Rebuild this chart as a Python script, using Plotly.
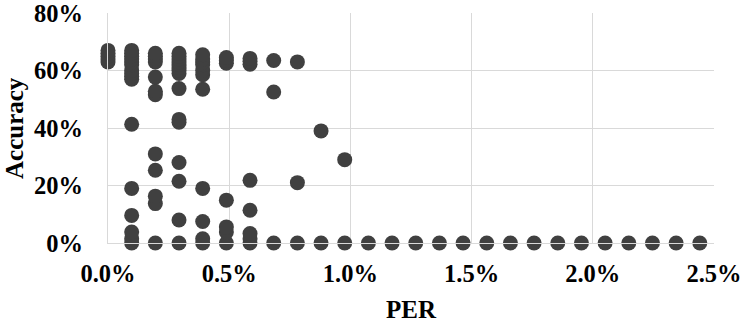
import plotly.graph_objects as go

# PER steps of 1/1024 (column index k -> k/1024)
per_steps = list(range(26))

# accuracy values (%) observed in each PER column
acc_by_step = {
    0: [63, 64, 65, 66, 67],
    1: [0, 1.5, 3.8, 9.6, 19, 41.3, 57, 58, 59, 60, 62, 63, 64, 65, 66, 67],
    2: [0, 13.7, 16.3, 25.3, 31, 51.6, 52.8, 57.7, 63, 64, 65, 66],
    3: [0, 8, 21.5, 28, 42, 43, 53.7, 59, 60, 61, 62, 63, 64, 65, 66],
    4: [0, 1.5, 7.5, 19, 53.5, 58.5, 60, 62, 63, 64, 65.5],
    5: [0, 3.8, 5.6, 14.9, 62.5, 63.5, 64.5],
    6: [0, 1.5, 3.3, 11.4, 21.8, 62.2, 63.2, 64.2],
    7: [0, 52.5, 63.5],
    8: [0, 21, 63],
    9: [0, 39],
    10: [0, 29],
}

xs, ys = [], []
for k in per_steps:
    for a in acc_by_step.get(k, [0]):
        xs.append(k / 1024)
        ys.append(a / 100)

font = dict(family="Liberation Serif", size=25, color="black")
tickfont = dict(family="Liberation Serif", size=24.5, color="black", weight="bold")

fig = go.Figure(
    go.Scatter(
        x=xs, y=ys, mode="markers",
        marker=dict(color="#404040", size=15, line=dict(width=0)),
        showlegend=False,
        cliponaxis=False,
    )
)
fig.update_layout(
    width=747, height=322,
    margin=dict(l=108, r=33, t=13, b=79),
    paper_bgcolor="white", plot_bgcolor="white",
    font=font,
)
fig.update_xaxes(
    range=[0, 0.025], dtick=0.005, tickformat=".1%",
    showgrid=True, gridcolor="#d9d9d9", gridwidth=1,
    showline=True, linecolor="#d9d9d9", zeroline=False,
    ticklabelstandoff=9, automargin=False, ticklabeloverflow="allow",
    tickfont=tickfont,
)
fig.update_yaxes(
    range=[0, 0.8], dtick=0.2, tickformat=".0%",
    showgrid=True, gridcolor="#d9d9d9", gridwidth=1,
    showline=True, linecolor="#d9d9d9", zeroline=False,
    ticklabelstandoff=19, automargin=False, ticklabeloverflow="allow",
    tickfont=tickfont,
)
# axis titles
fig.add_annotation(text="<b>PER</b>", xref="paper", yref="paper", x=0.5, y=0,
                   xanchor="center", yanchor="middle", yshift=-66,
                   showarrow=False, font=font, borderpad=0)
fig.add_annotation(text="<b>Accuracy</b>", xref="paper", yref="paper", x=0, y=0.5,
                   xanchor="center", yanchor="middle", xshift=-94, textangle=-90,
                   showarrow=False, font=font, borderpad=0)
# zero the page's body margin so the figure fills the window exactly
fig.write_html("out.html", config={"displayModeBar": False},
               post_script="document.body.style.margin='0';")
